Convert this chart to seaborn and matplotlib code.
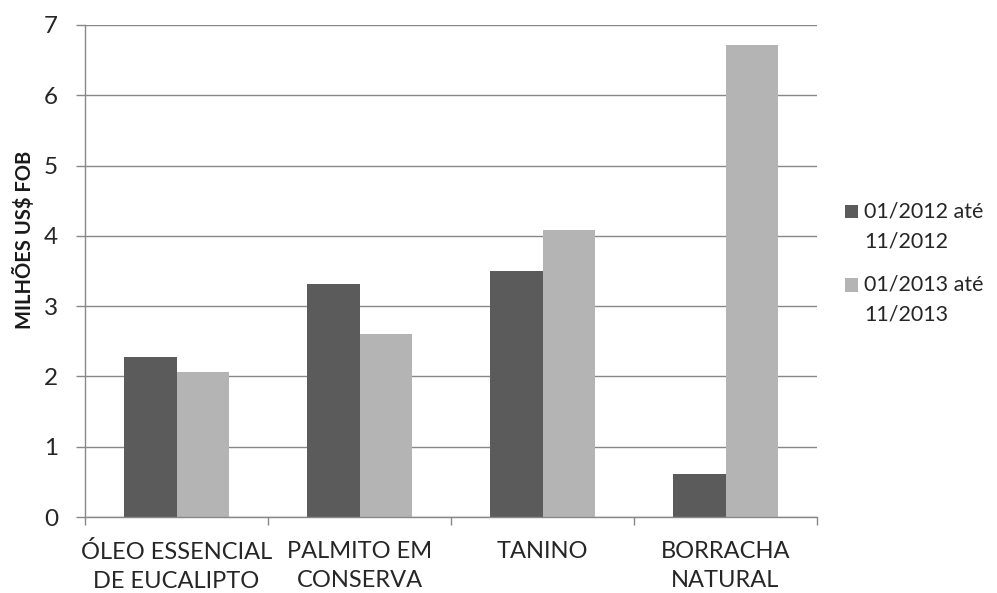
import matplotlib
matplotlib.use("Agg")
import matplotlib.pyplot as plt
from matplotlib.ticker import FixedLocator
import seaborn as sns
import pandas as pd

categories = ["ÓLEO ESSENCIAL\nDE EUCALIPTO", "PALMITO EM\nCONSERVA", "TANINO", "BORRACHA\nNATURAL"]
periods = ["01/2012 até\n11/2012", "01/2013 até\n11/2013"]
values_2012 = [2.28, 3.32, 3.50, 0.62]
values_2013 = [2.06, 2.61, 4.08, 6.72]
y_ticks = [0, 1, 2, 3, 4, 5, 6, 7]

sns.set_theme(style="white")
plt.rcParams["font.family"] = ["Lato", "DejaVu Sans"]

df = pd.DataFrame({
    "produto": categories * 2,
    "periodo": [periods[0]] * len(categories) + [periods[1]] * len(categories),
    "valor": values_2012 + values_2013,
})

fig = plt.figure(figsize=(9.97, 5.93), dpi=100)
ax = fig.add_axes([0.0853, 0.128, 0.7342, 0.830])

grid_color = "#888888"
ax.set_axisbelow(True)
ax.yaxis.grid(True, color=grid_color, linewidth=1.0)

sns.barplot(data=df, x="produto", y="valor", hue="periodo",
            palette=["#5b5b5b", "#b4b4b4"], saturation=1, width=0.57,
            linewidth=0.0, ax=ax)

ax.set_xlim(-0.5, len(categories) - 0.5)
ax.set_ylim(0, 7)
ax.set_yticks(y_ticks)
ax.set_yticklabels([str(v) for v in y_ticks])

for s in ["top", "right"]:
    ax.spines[s].set_visible(False)
for s in ["left", "bottom"]:
    ax.spines[s].set_color(grid_color)
    ax.spines[s].set_linewidth(1.0)

ax.tick_params(axis="y", which="major", length=6.5, width=1.0, color=grid_color,
               labelsize=17.5, labelcolor="#262626", pad=13, left=True)
ax.tick_params(axis="x", which="major", length=0, labelsize=17,
               labelcolor="#262626", pad=17)
for lbl in ax.get_xticklabels():
    lbl.set_linespacing(1.5)
ax.xaxis.set_minor_locator(FixedLocator([i - 0.5 for i in range(len(categories) + 1)]))
ax.tick_params(axis="x", which="minor", length=6, width=1.0, color=grid_color, bottom=True)

ax.set_xlabel("")
ax.set_ylabel("MILHÕES US$ FOB", fontsize=14.5, fontweight="bold", color="#1a1a1a")
ax.yaxis.set_label_coords(-0.068, 0.563)

handles, labels = ax.get_legend_handles_labels()
leg = ax.legend(handles, labels, loc="center left", bbox_to_anchor=(1.02, 0.516), frameon=False,
                fontsize=15.5, handlelength=0.6, handleheight=0.6, handletextpad=0.3,
                labelspacing=1.1, labelcolor="#262626", borderaxespad=0.2)
for t in leg.get_texts():
    t.set_linespacing(1.6)
# align each legend swatch with the first line of its two-line label
for patch in leg.legend_handles:
    patch.set_y(patch.get_y() + 11)

fig.savefig("out.png", dpi=100, facecolor="white")
